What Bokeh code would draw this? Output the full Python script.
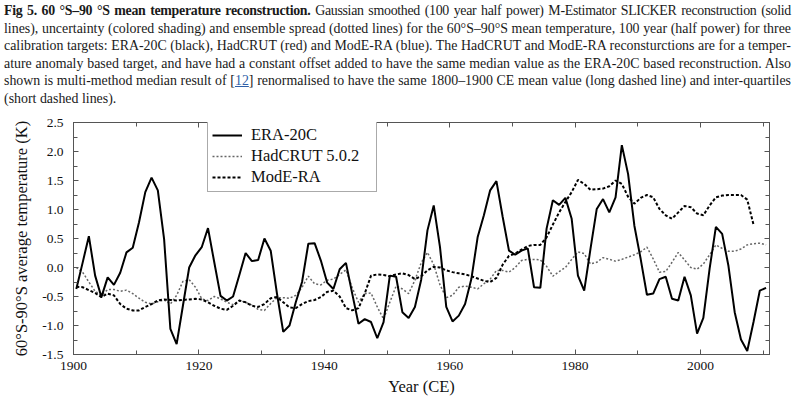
import math
from bokeh.plotting import figure
from bokeh.models import (Range1d, LinearAxis, SingleIntervalTicker, NumeralTickFormatter,
                          CustomJSTickFormatter, Legend, LegendItem, Div)
from bokeh.layouts import column
from bokeh.embed import file_html
from bokeh.resources import INLINE

NaN = float("nan")

years = list(range(1900, 2011))

era20c = [
    -0.37, 0.08, 0.54, -0.14, -0.51, -0.17, -0.30, -0.09, 0.26, 0.34,
    0.78, 1.30, 1.55, 1.33, 0.49, -1.06, -1.32, -0.66, 0.00, 0.21,
    0.35, 0.68, 0.09, -0.49, -0.57, -0.50, -0.13, 0.25, 0.11, 0.13,
    0.50, 0.29, -0.45, -1.11, -1.00, -0.60, -0.25, 0.41, 0.42, 0.12,
    -0.26, -0.37, -0.03, 0.08, -0.45, -0.97, -0.89, -0.94, -1.22, -0.94,
    -0.14, -0.16, -0.77, -0.87, -0.68, -0.21, 0.64, 1.07, 0.35, -0.68,
    -0.93, -0.83, -0.63, -0.20, 0.52, 0.90, 1.33, 1.49, 0.87, 0.29,
    0.22, 0.29, 0.33, -0.34, -0.35, 0.67, 1.16, 1.08, 1.20, 0.84,
    -0.14, -0.40, 0.32, 1.01, 1.18, 0.95, 1.21, 2.11, 1.61, 0.72,
    0.15, -0.47, -0.45, -0.20, -0.16, -0.54, -0.57, -0.16, -0.48, -1.14,
    -0.87, -0.02, 0.70, 0.58, 0.03, -0.77, -1.24, -1.44, -0.94, -0.40,
    -0.35,
]

hadcrut = [
    0.00, -0.08, -0.25, -0.41, -0.48, -0.38, -0.38, -0.41, -0.39, -0.45,
    -0.53, -0.60, -0.63, -0.59, -0.56, -0.63, -0.48, -0.24, -0.21, -0.34,
    -0.54, -0.57, -0.50, -0.54, -0.60, -0.64, -0.57, -0.60, -0.65, -0.72,
    -0.74, -0.62, -0.52, -0.52, -0.53, -0.48, -0.34, -0.15, -0.28, -0.30,
    -0.22, -0.20, -0.12, -0.04, -0.35, -0.60, -0.45, -0.44, -0.68, -0.89,
    -0.60, -0.32, -0.37, -0.45, -0.22, 0.08, 0.26, 0.05, -0.30, -0.52,
    -0.48, -0.34, -0.32, -0.34, -0.37, -0.28, -0.20, -0.05, -0.05, -0.08,
    0.00, 0.12, 0.14, 0.14, 0.13, 0.02, -0.15, -0.07, 0.00, 0.14,
    0.27, 0.24, 0.06, 0.09, 0.17, 0.14, 0.11, 0.14, 0.18, 0.22,
    0.27, 0.35, 0.15, -0.08, -0.07, 0.09, 0.26, 0.13, 0.00, -0.03,
    0.06, 0.22, 0.39, 0.33, 0.28, 0.28, 0.32, 0.39, 0.41, 0.42,
    0.39,
]

modera = [
    -0.33, -0.34, -0.39, -0.44, -0.51, -0.45, -0.48, -0.63, -0.71, -0.74,
    -0.74, -0.68, -0.63, -0.57, -0.55, -0.56, -0.57, -0.56, -0.55, -0.54,
    -0.55, -0.60, -0.66, -0.71, -0.73, -0.66, -0.57, -0.60, -0.66, -0.68,
    -0.63, -0.53, -0.51, -0.60, -0.69, -0.70, -0.63, -0.58, -0.56, -0.51,
    -0.42, -0.40, -0.50, -0.70, -0.74, -0.70, -0.45, -0.14, -0.12, -0.13,
    -0.15, -0.12, -0.10, -0.13, -0.20, -0.15, -0.05, 0.01, 0.00, -0.05,
    -0.08, -0.10, -0.12, -0.15, -0.19, -0.23, -0.25, -0.18, 0.05, 0.20,
    0.24, 0.31, 0.37, 0.39, 0.39, 0.52, 0.74, 0.95, 1.13, 1.30,
    1.51, 1.44, 1.34, 1.35, 1.36, 1.40, 1.50, 1.44, 1.22, 1.10,
    1.20, 1.25, 1.21, 1.01, 0.90, 0.84, 0.95, 1.06, 1.04, 0.93,
    0.90, 1.07, 1.21, 1.24, 1.25, 1.25, 1.25, 1.17, 0.74, NaN,
    NaN,
]

series_labels = ["ERA-20C", "HadCRUT 5.0.2", "ModE-RA"]

caption_lines = [
    "<b>Fig 5. 60 &deg;S&ndash;90 &deg;S mean temperature reconstruction.</b> Gaussian smoothed (100 year half power) M-Estimator SLICKER reconstruction (solid",
    "lines), uncertainty (colored shading) and ensemble spread (dotted lines) for the 60&deg;S&ndash;90&deg;S mean temperature, 100 year (half power) for three",
    "calibration targets: ERA-20C (black), HadCRUT (red) and ModE-RA (blue). The HadCRUT and ModE-RA reconsturctions are for a temper-",
    "ature anomaly based target, and have had a constant offset added to have the same median value as the ERA-20C based reconstruction. Also",
    "shown is multi-method median result of [<span style=\"color:#2f5fa8;text-decoration:underline;\">12</span>] renormalised to have the same 1800&ndash;1900 CE mean value (long dashed line) and inter-quartiles",
    "(short dashed lines).",
]

FONT = "Liberation Serif"

# ---- caption ----
inner = ""
for i, ln in enumerate(caption_lines):
    ls = "letter-spacing:-0.3px;" if i == 0 else ""
    if i < len(caption_lines) - 1:
        inner += (f'<div style="text-align:justify;text-align-last:justify;'
                  f'white-space:nowrap;{ls}">{ln}</div>')
    else:
        inner += f'<div style="text-align:left;white-space:nowrap;">{ln}</div>'
html = (f'<div style="font-family:\'{FONT}\';font-size:13.9px;line-height:17.5px;'
        f'color:#1a1a1a;width:791px;height:106px;padding:2px 0 0 4px;">{inner}</div>')
div = Div(text=html, width=803, height=108, margin=(0, 0, 0, 0))

# ---- figure ----
x = [y + 0.45 for y in years]

p = figure(width=803, height=290, x_range=Range1d(1900, 2011), y_range=Range1d(-1.5, 2.5),
           output_backend="svg", toolbar_location=None,
           min_border_left=73, min_border_right=34, min_border_top=14, min_border_bottom=44,
           x_axis_label="Year (CE)", y_axis_label="60°S-90°S average temperature (K)")
p.margin = (0, 0, 0, 0)
p.xgrid.visible = False
p.ygrid.visible = False
p.outline_line_color = "#555555"
p.background_fill_color = "white"
p.border_fill_color = "white"

AX = "#555555"

def style_axis(ax):
    ax.axis_line_color = AX
    ax.major_tick_line_color = AX
    ax.minor_tick_line_color = AX
    ax.major_tick_in = 5
    ax.major_tick_out = 0
    ax.minor_tick_in = 4
    ax.minor_tick_out = 0
    ax.major_label_text_font = FONT
    ax.major_label_text_color = "#111111"
    ax.major_label_text_font_size = "13.5px"
    ax.axis_label_text_font = FONT
    ax.axis_label_text_font_style = "normal"
    ax.axis_label_text_font_size = "16.5px"
    ax.axis_label_text_color = "#111111"

p.xaxis.ticker = SingleIntervalTicker(interval=20, num_minor_ticks=2)
p.yaxis.ticker = SingleIntervalTicker(interval=0.5, num_minor_ticks=2)
p.yaxis.formatter = NumeralTickFormatter(format="0.0")
style_axis(p.xaxis[0])
style_axis(p.yaxis[0])
p.xaxis.major_label_standoff = 7
p.xaxis.axis_label_standoff = 4
p.yaxis.major_label_standoff = 10
p.yaxis.axis_label_standoff = 8

blank = CustomJSTickFormatter(code="return ''")
top = LinearAxis(ticker=SingleIntervalTicker(interval=20, num_minor_ticks=2), formatter=blank)
style_axis(top)
top.major_label_standoff = 0
p.add_layout(top, "above")
right = LinearAxis(ticker=SingleIntervalTicker(interval=0.5, num_minor_ticks=2), formatter=blank)
style_axis(right)
right.major_label_standoff = 0
p.add_layout(right, "right")

r2 = p.line(x, hadcrut, line_color="#666666", line_width=1.5, line_dash="2 2")
r3 = p.line(x, modera, line_color="black", line_width=2, line_dash="3 2")
r1 = p.line(x, era20c, line_color="black", line_width=2)

legend = Legend(items=[LegendItem(label=series_labels[0], renderers=[r1]),
                       LegendItem(label=series_labels[1], renderers=[r2]),
                       LegendItem(label=series_labels[2], renderers=[r3])],
                location=(134, 162), margin=0, padding=4, spacing=1,
                glyph_width=30, glyph_height=20, label_height=20, label_standoff=9,
                label_width=121,
                label_text_font=FONT, label_text_font_size="16.5px", label_text_color="#111111",
                border_line_color="#555555", border_line_width=1,
                background_fill_color="white", background_fill_alpha=1.0)
p.add_layout(legend)

layout = column(div, p, spacing=0)
open("out.html", "w").write(file_html(layout, INLINE))
